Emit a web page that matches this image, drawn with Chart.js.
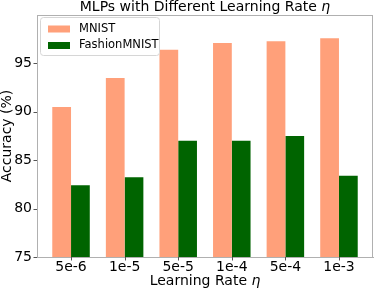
<!DOCTYPE html>
<html lang="en">
<head>
  <meta charset="UTF-8" />
  <title>MLPs with Different Learning Rate</title>
  <script src="https://cdn.jsdelivr.net/npm/chart.js"></script>
  <style>
    html, body { margin: 0; padding: 0; background: #fff; }
    #wrap { width: 375px; height: 291px; }
  </style>
</head>
<body>
  <div id="wrap"><canvas id="myChart"></canvas></div>

  <script>
    const learningRates = ['5e-6', '1e-5', '5e-5', '1e-4', '5e-4', '1e-3'];
    const mnist = [90.5, 93.5, 96.4, 97.1, 97.3, 97.6];
    const fashionMnist = [82.4, 83.25, 87.0, 87.0, 87.5, 83.4];
    const yTicks = [75, 80, 85, 90, 95];

    const FONT = "'DejaVu Sans', sans-serif";
    const frameColor = '#b0b0b0';

    // bars sit on x = 0..5, with matplotlib-like margins
    const toPoints = arr => arr.map((v, i) => ({ x: i, y: v }));

    // draws a string made of normal + italic parts, centred at (cx, cy)
    function drawMixed(ctx, parts, cx, cy, size, rotate) {
      ctx.save();
      ctx.translate(cx, cy);
      if (rotate) ctx.rotate(-Math.PI / 2);
      ctx.textBaseline = 'middle';
      ctx.fillStyle = '#000';
      let total = 0;
      parts.forEach(p => {
        ctx.font = (p.italic ? 'italic ' : '') + size + 'px ' + FONT;
        p.w = ctx.measureText(p.text).width;
        total += p.w;
      });
      let x = -total / 2;
      parts.forEach(p => {
        ctx.font = (p.italic ? 'italic ' : '') + size + 'px ' + FONT;
        ctx.textAlign = 'left';
        ctx.fillText(p.text, x, 0);
        x += p.w;
      });
      ctx.restore();
    }

    const decorations = {
      id: 'decorations',
      afterDraw(chart) {
        const ctx = chart.ctx;
        const a = chart.chartArea;
        const xs = chart.scales.x, ys = chart.scales.y;

        // frame
        ctx.save();
        ctx.strokeStyle = frameColor;
        ctx.lineWidth = 1;
        ctx.strokeRect(a.left + 0.5, a.top + 0.5, a.right - a.left - 1, a.bottom - a.top);

        // tick marks, outward
        ctx.strokeStyle = '#555';
        ctx.beginPath();
        learningRates.forEach((_, i) => {
          const px = Math.round(xs.getPixelForValue(i)) + 0.5;
          ctx.moveTo(px, a.bottom); ctx.lineTo(px, a.bottom + 3.5);
        });
        yTicks.forEach(v => {
          const py = Math.round(ys.getPixelForValue(v)) + 0.5;
          ctx.moveTo(a.left, py); ctx.lineTo(a.left - 3.5, py);
        });
        ctx.stroke();
        ctx.restore();

        // title, axis labels
        const cx = (a.left + a.right) / 2;
        drawMixed(ctx, [{ text: 'MLPs with Different Learning Rate ' }, { text: 'η', italic: true }], cx, 7, 14);
        drawMixed(ctx, [{ text: 'Learning Rate ' }, { text: 'η', italic: true }], cx, 281, 14);
        drawMixed(ctx, [{ text: 'Accuracy (%)' }], 7, (a.top + a.bottom) / 2, 14, true);

        // legend
        ctx.save();
        const lx = a.left + 3, ly = a.top + 2, lw = 119, lh = 38;
        ctx.fillStyle = 'rgba(255,255,255,0.8)';
        ctx.strokeStyle = '#d6d6d6';
        ctx.lineWidth = 1;
        ctx.beginPath();
        ctx.roundRect(lx + 0.5, ly + 0.5, lw, lh, 3);
        ctx.fill();
        ctx.stroke();
        ctx.font = '11.5px ' + FONT;
        ctx.textBaseline = 'middle';
        ctx.textAlign = 'left';
        chart.data.datasets.forEach((ds, i) => {
          const y = ly + 12 + i * 16.5;
          ctx.fillStyle = ds.backgroundColor;
          ctx.fillRect(lx + 8, y - 3.5, 22, 7);
          ctx.fillStyle = '#000';
          ctx.fillText(ds.label, lx + 39, y);
        });
        ctx.restore();
      }
    };

    const ctx = document.getElementById('myChart').getContext('2d');
    new Chart(ctx, {
      type: 'bar',
      data: {
        datasets: [
          { label: 'MNIST', data: toPoints(mnist), backgroundColor: '#FFA07A' },
          { label: 'FashionMNIST', data: toPoints(fashionMnist), backgroundColor: '#006400' }
        ]
      },
      options: {
        responsive: true,
        maintainAspectRatio: false,
        animation: false,
        layout: { padding: { top: 15, right: 2, left: 0, bottom: 0 } },
        datasets: { bar: { categoryPercentage: 0.7, barPercentage: 1.0 } },
        plugins: { legend: { display: false }, tooltip: { enabled: false }, title: { display: false } },
        scales: {
          x: {
            type: 'linear',
            min: -0.635,
            max: 5.635,
            offset: false,
            afterBuildTicks(scale) {
              scale.ticks = learningRates.map((_, i) => ({ value: i }));
            },
            afterFit(scale) { scale.height = 34; },
            grid: { display: false, drawTicks: false, tickLength: 0 },
            border: { display: true, color: frameColor },
            ticks: {
              color: '#000',
              font: { family: FONT, size: 14 },
              padding: 2,
              maxRotation: 0,
              autoSkip: false,
              callback: v => learningRates[v]
            }
          },
          y: {
            min: 75,
            max: 100,
            afterBuildTicks(scale) {
              scale.ticks = yTicks.map(v => ({ value: v }));
            },
            afterFit(scale) { scale.width = 37; },
            grid: { display: false, drawTicks: false, tickLength: 0 },
            border: { display: true, color: frameColor },
            ticks: {
              color: '#000',
              font: { family: FONT, size: 14 },
              padding: 5
            }
          }
        }
      },
      plugins: [decorations]
    });
  </script>
</body>
</html>
